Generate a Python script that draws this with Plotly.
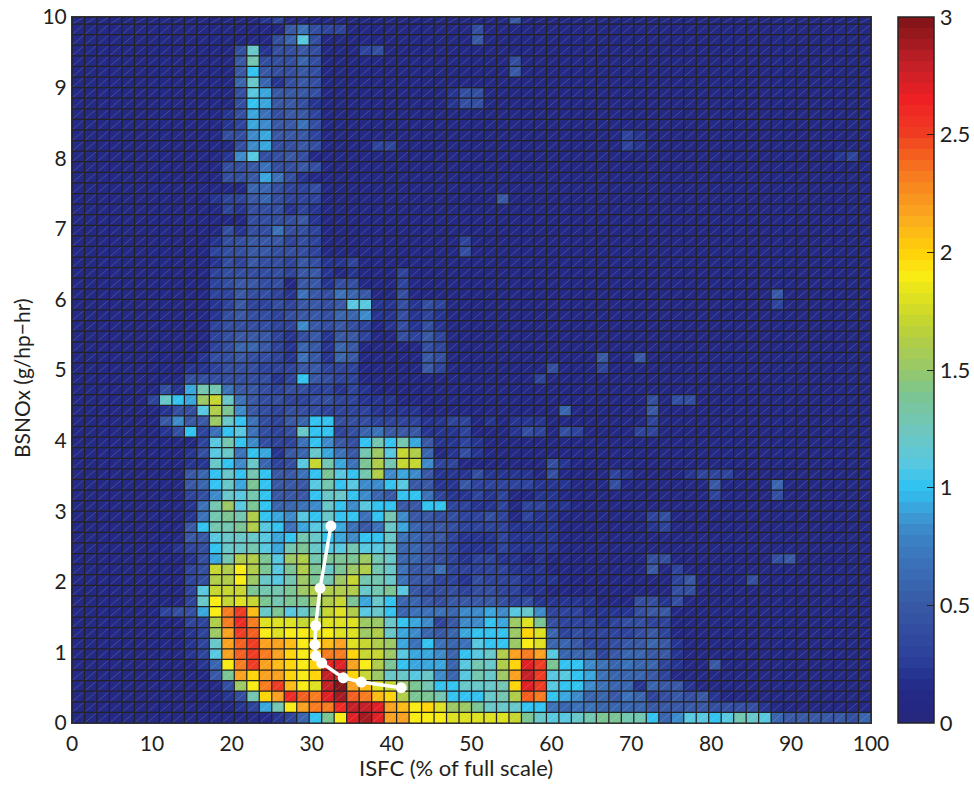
import numpy as np
import plotly.graph_objects as go

# Cell values, bottom row first.
# One character per cell, base-36, in tenths: 1 = 0.1, a = 1.0, k = 2.0, u = 3.0.
# Each row has three blocks: columns 0-21, 22-43 and 44-63.
# Cells left unwritten at the end of a block are 0.1.
cell_rows = [
"1111111111111111236aej rtrmmjjjiiiiihecbbcdee dda68bbabdcb65555546",
"1111111111111239djmnnq ssrmljkiffecccaa767766 66555554444211111111",
"11111111111124dkmqonrt onlkgeedaaacdgona98665 76345452",
"1111111111114fjnpljisu mlihfedaacccdkrpbaa876 626552",
"111111111115emkmmkjkss khfccbc86bdcfmspbba976 6653",
"111111111126jnpmlkjkrr mjgea9996bdcgkrpeaa876 76632115",
"11111111123bmopnmkjknn khhfb9986abcgmnmb66635 66552",
"11111111123cmopmmljklm ihgf97a767baafji665334 55652",
"11111111123fmpojijjiji ifgc986569aaafki634333 3453",
"11111111133gnqniiihhii iffca983588a9fie433323 4433",
"11111113449jnplcebcehi gbca677768898bc8333222 2455",
"1111111113cjhihedeefgh e9ca665455554342222211 14424",
"1111111113bhhheddefggg gcdeb54443443322111111 111144",
"11111111134ggjfcbdfedf hddc755332433322211111 11113511114",
"11111111134hgjgebegece fgdc755733333222111111 11513",
"111111111249dggebfgdee efdc665432332212111111 11441111111145",
"11111111234accdb9decbb dbbc665432223222211111 1",
"11111111155bcccb9adca9 8aac765532223222211111 1",
"1111111115addegba79bb9 757c965543333222211111 1123",
"11111111127dedga98baca a7ad855443343132211111 1134",
"11111111127dfbea6678ca 8baa55aa33223133221111 1",
"111111111348cbda555acc a865aa7322323112211111 11111113111141",
"11111111156ac9ea555bda b88ab55225333332221114 11111115111161",
"11111111156acada557aeb adg8985222422221411113 2111123331",
"11111111122ca8c634bhd9 7egdhh8331111111421111 1",
"11111111124bc7a9256c97 5dfbhg61242111111111 1",
"11111111113bda84337a85 4adad952232111111111 1",
"111111124a37ab7434caa3 4675552223111243143111 133",
"11111115855fca74356aa4 4433332233121222111111 113",
"1111111244bge854344433 3322221111111111161111 115",
"1111113ca9fhc754433443 3222111111 114144",
"1111111429dd7554344332 3211111111 1",
"111111111444444423a543 3111111111111113111111 1",
"1111111112234443335533 3111115311111111411131 1",
"1111111111244544327526 5111115411111111111151 15",
"1111111111134665326526 5111114311 1",
"1111111111134555324525 5311435311 1",
"1111111111134444338545 4312424211 1",
"1111111111124544345546 6822423211 1",
"1111111111123533435545 bb22424311 1111111111113",
"1111111111133544327547 6511411111 1111111111115",
"1111111111134554415524 4111311111 1",
"1111111111134444435521 2111311111 1",
"1111111111124354435422 3111111111 1",
"1111111111134455444311 1111111114 1",
"1111111111124455534311 1111111113 1",
"1111111111114244744311 1 1",
"1111111111111144445211 1 1",
"1111111111113244423211 1 1",
"1111111111123356433311 1111111111115 1",
"1111111111111166433411 1 1",
"1111111111114459742111 1 1",
"1111111111114457445411 1 1",
"11111111111128b445411 1 11111111111111111231",
"1111111111111489445411 1133 32",
"1111111111114489555311 1 32",
"1111111111112398557411 1 1",
"1111111111112497455311 1 1",
"11111111111114a9554211 111111112441 1",
"11111111111114b9555411 111111112441 1",
"11111111111116c6245411 1 1",
"11111111111115a5445411 1111111111111511 1",
"11111111111115d4446411 1111111111111411 1",
"11111111111114c2445411 134 1",
"111111111111111146b411 11111111115 1",
"1111111111111111157433 11111111114 1",
"1111111111111112311111 1111111111111511 1",
]

x_tick_values = [0, 10, 20, 30, 40, 50, 60, 70, 80, 90, 100]
y_tick_values = [0, 1, 2, 3, 4, 5, 6, 7, 8, 9, 10]
bar_tick_values = [0, 0.5, 1, 1.5, 2, 2.5, 3]
bar_tick_text = ["0", "0.5", "1", "1.5", "2", "2.5", "3"]
x_title = "ISFC (% of full scale)"
y_title = "BSNOx (g/hp\u2212hr)"

line_x = [32.4, 31.05, 30.5, 30.4, 30.5, 31.25, 33.95, 36.2, 41.2]
line_y = [2.79, 1.91, 1.38, 1.11, 0.95, 0.85, 0.64, 0.58, 0.50]

N_COLS, N_ROWS = 64, 67
BLOCKS = (22, 22, 20)
x_edges = np.linspace(0, 100, N_COLS + 1)
y_edges = np.append(np.arange(N_ROWS) * 0.15, 10.0)


def decode(row):
    parts = row.split()
    parts += ["1"] * (3 - len(parts))
    text = "".join(p.ljust(n, "1")[:n] for p, n in zip(parts, BLOCKS))
    return [int(ch, 36) / 10 for ch in text]


z = [decode(r) for r in cell_rows]
assert len(z) == N_ROWS, len(z)

anchors = [
    (0.00, "#26277c"), (0.15, "#242a88"), (0.25, "#293c98"), (0.35, "#30499f"),
    (0.50, "#3858a5"), (0.60, "#3966b0"), (0.75, "#3c7bc0"), (0.85, "#3d91d0"),
    (0.93, "#38abe0"), (1.00, "#2fc3f2"), (1.10, "#58c8e0"), (1.25, "#70c6bc"),
    (1.40, "#7cc58f"), (1.50, "#97c86b"), (1.65, "#b6cf3e"), (1.80, "#dde01f"),
    (1.90, "#f9ec15"), (2.00, "#ffd208"), (2.15, "#fbaa1f"), (2.25, "#f8901f"),
    (2.40, "#f5641f"), (2.50, "#f03d23"), (2.65, "#ee2024"), (2.80, "#c21f27"),
    (3.00, "#7d1416"),
]


def rgb(h):
    return [int(h[i:i + 2], 16) for i in (1, 3, 5)]


anchor_v = [a[0] for a in anchors]
anchor_rgb = np.array([rgb(a[1]) for a in anchors])
colorscale = []
for i in range(64):
    mid = (i + 0.5) / 64 * 3
    c = [int(round(np.interp(mid, anchor_v, anchor_rgb[:, k]))) for k in range(3)]
    col = f"rgb({c[0]},{c[1]},{c[2]})"
    colorscale.append([i / 64, col])
    colorscale.append([(i + 1) / 64, col])

FONT = "Lato, Carlito, sans-serif"
TEXT = "#231f20"
GRID = "#232323"
# plot box 72..871 x 17..723 inside a larger paper box that also holds the colour bar
PLOT_W, PLOT_H = 892, 718
x_dom = 799 / PLOT_W
y_dom = 706 / PLOT_H
bar_x = (898 - 72) / PLOT_W

fig = go.Figure()
fig.add_trace(go.Heatmap(
    x=x_edges, y=y_edges, z=z, zmin=0, zmax=3, colorscale=colorscale,
    hoverinfo="skip",
    colorbar=dict(
        x=bar_x, xanchor="left", xpad=0, y=0, yanchor="bottom", ypad=0,
        len=y_dom, lenmode="fraction", thickness=36, thicknessmode="pixels",
        outlinewidth=1.5, outlinecolor=GRID,
        tickmode="array", tickvals=bar_tick_values, ticktext=bar_tick_text,
        ticks="inside", ticklen=7, tickwidth=1, tickcolor=GRID,
        tickfont=dict(family=FONT, size=22, color=TEXT),
    ),
))

# faint diagonal seam through every cell
dx, dy = [], []
for i in range(N_COLS):
    for j in range(N_ROWS):
        dx += [x_edges[i], x_edges[i + 1], None]
        dy += [y_edges[j], y_edges[j + 1], None]
fig.add_trace(go.Scatter(
    x=dx, y=dy, mode="lines", hoverinfo="skip", showlegend=False,
    line=dict(color="rgba(255,255,255,0.26)", width=0.6),
))

# dark outline round every cell, evenly weighted
gx, gy = [], []
for e in x_edges:
    gx += [e, e, None]
    gy += [0, 10, None]
for e in y_edges:
    gx += [0, 100, None]
    gy += [e, e, None]
fig.add_trace(go.Scatter(
    x=gx, y=gy, mode="lines", hoverinfo="skip", showlegend=False,
    line=dict(color=GRID, width=1.25),
))

fig.add_trace(go.Scatter(
    x=line_x, y=line_y, mode="lines+markers", showlegend=False,
    line=dict(color="white", width=3.5),
    marker=dict(color="white", size=11),
))

# the colour bar's ticks also show on its left edge
for v in bar_tick_values[1:-1]:
    fig.add_shape(
        type="line", xref="paper", yref="y",
        x0=bar_x, x1=bar_x + 7 / PLOT_W, y0=v / 3 * 10, y1=v / 3 * 10,
        line=dict(color=GRID, width=1),
    )

fig.add_annotation(
    text=x_title, xref="paper", yref="paper", showarrow=False,
    x=(456 - 72) / PLOT_W, y=(723 - 767) / PLOT_H, xanchor="center", yanchor="middle",
    font=dict(family=FONT, size=22, color=TEXT),
)
fig.add_annotation(
    text=y_title, xref="paper", yref="paper", showarrow=False, textangle=-90,
    x=(22 - 72) / PLOT_W, y=(723 - 378) / PLOT_H, xanchor="center", yanchor="middle",
    font=dict(family=FONT, size=21, color=TEXT),
)

axis_common = dict(
    showgrid=False, zeroline=False, showline=True, mirror=True,
    linecolor="#333333", linewidth=1, ticks="",
    tickfont=dict(family=FONT, size=21, color=TEXT),
)
fig.update_layout(
    width=974, height=785, margin=dict(l=72, r=10, t=5, b=62, autoexpand=False),
    paper_bgcolor="white", plot_bgcolor=GRID, showlegend=False,
    font=dict(family=FONT, color=TEXT),
    xaxis=dict(range=[0, 100], domain=[0, x_dom], tickvals=x_tick_values,
               ticklabelstandoff=2, **axis_common),
    yaxis=dict(range=[0, 10], domain=[0, y_dom], tickvals=y_tick_values, **axis_common),
)

fig.write_html("out.html", post_script="document.body.style.margin='0';",
               config={"displayModeBar": False})
